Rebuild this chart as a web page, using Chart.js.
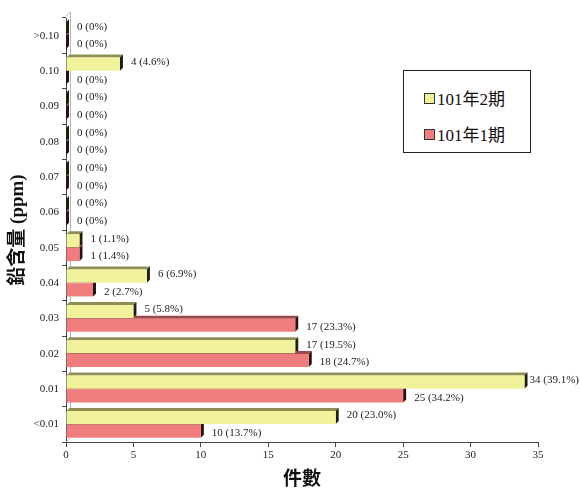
<!DOCTYPE html>
<html lang="zh-Hant">
<head>
<meta charset="UTF-8">
<title>鉛含量分布</title>
<script src="https://cdn.jsdelivr.net/npm/chart.js"></script>
<style>
  body { margin: 0; background: #fff; }
  #wrap { position: relative; width: 580px; height: 491px; }
  #legend {
    position: absolute; left: 403px; top: 70px; width: 128px; height: 83px;
    border: 1px solid #222; background: #fff; box-sizing: border-box;
    font-family: "Liberation Serif", "Noto Sans CJK TC", serif; font-size: 17px; color: #111;
  }
  #legend div { position: absolute; left: 20px; white-space: nowrap; }
  #legend span.box { display: inline-block; width: 9px; height: 9px; border: 1px solid #333; margin-right: 2px; vertical-align: 1px; }
</style>
</head>
<body>
<div id="wrap">
  <canvas id="grafico" width="580" height="491"></canvas>
  <div id="legend"></div>
</div>
<script>
// 分級 (ppm)，由上到下
const niveis = ['>0.10', '0.10', '0.09', '0.08', '0.07', '0.06', '0.05', '0.04', '0.03', '0.02', '0.01', '<0.01'];
const periodo2 = [0, 4, 0, 0, 0, 0, 1, 6, 5, 17, 34, 20];
const periodo1 = [0, 0, 0, 0, 0, 0, 1, 2, 17, 18, 25, 10];
const pct2 = ['0%', '4.6%', '0%', '0%', '0%', '0%', '1.1%', '6.9%', '5.8%', '19.5%', '39.1%', '23.0%'];
const pct1 = ['0%', '0%', '0%', '0%', '0%', '0%', '1.4%', '2.7%', '23.3%', '24.7%', '34.2%', '13.7%'];
const xTicks = [0, 5, 10, 15, 20, 25, 30, 35];

const cores = [
  { front: '#f2f29c', top: '#8f8f55', side: '#1e1e10' },
  { front: '#ef7d7d', top: '#9a4a4a', side: '#2a1010' }
];
const serif = '"Liberation Serif", "Noto Sans CJK TC", serif';

// parede e faces 3D das barras
const profundidade = 3;
const efeito3d = {
  id: 'efeito3d',
  beforeDatasetsDraw(chart) {
    const ctx = chart.ctx, a = chart.chartArea, d = 4;
    ctx.save();
    ctx.strokeStyle = '#b5b5b5';
    ctx.lineWidth = 1;
    ctx.beginPath();
    ctx.moveTo(a.left + d + 0.5, a.top - d - 2);
    ctx.lineTo(a.left + d + 0.5, a.bottom - d);
    ctx.lineTo(a.left, a.bottom);
    ctx.moveTo(a.left, a.top - 2);
    ctx.lineTo(a.left + d + 0.5, a.top - d - 2);
    ctx.stroke();
    chart.data.datasets.forEach((ds, di) => {
      const c = cores[di];
      chart.getDatasetMeta(di).data.forEach(bar => {
        const t = bar.y - bar.height / 2, b = bar.y + bar.height / 2;
        const x0 = bar.base, x1 = bar.x, p = profundidade;
        ctx.fillStyle = c.top;
        ctx.beginPath();
        ctx.moveTo(x0, t); ctx.lineTo(x0 + p, t - p); ctx.lineTo(x1 + p, t - p); ctx.lineTo(x1, t);
        ctx.closePath(); ctx.fill();
        ctx.fillStyle = c.side;
        ctx.beginPath();
        ctx.moveTo(x1, t); ctx.lineTo(x1 + p, t - p); ctx.lineTo(x1 + p, b - p); ctx.lineTo(x1, b);
        ctx.closePath(); ctx.fill();
      });
    });
    ctx.restore();
  },
  afterDatasetsDraw(chart) {
    const ctx = chart.ctx;
    ctx.save();
    ctx.font = '11px ' + serif;
    ctx.fillStyle = '#222';
    ctx.textBaseline = 'middle';
    chart.data.datasets.forEach((ds, di) => {
      const pcts = di === 0 ? pct2 : pct1;
      chart.getDatasetMeta(di).data.forEach((bar, i) => {
        const txt = ds.data[i] + ' (' + pcts[i] + ')';
        const dy = di === 0 ? -2 : 2;
        // rótulo à direita da barra, sem sair do canvas
        const x = Math.min(bar.x + 11, chart.width - ctx.measureText(txt).width - 1);
        ctx.fillText(txt, x, bar.y + dy);
      });
    });
    ctx.restore();
  }
};

const ctx = document.getElementById('grafico');
const grafico = new Chart(ctx, {
  type: 'bar',
  data: {
    labels: niveis,
    datasets: [
      { label: '101年2期', data: periodo2, backgroundColor: cores[0].front },
      { label: '101年1期', data: periodo1, backgroundColor: cores[1].front }
    ]
  },
  options: {
    indexAxis: 'y',
    responsive: false,
    animation: false,
    layout: { padding: { top: 18, right: 42, left: 0, bottom: 0 } },
    datasets: { bar: { barPercentage: 0.95, categoryPercentage: 0.78 } },
    plugins: { legend: { display: false }, tooltip: { enabled: false } },
    scales: {
      x: {
        min: 0, max: 35,
        afterBuildTicks: s => { s.ticks = xTicks.map(v => ({ value: v })); },
        afterFit: s => { s.height = 49; },
        border: { color: '#444' },
        grid: { drawOnChartArea: false, tickLength: 5, color: '#444' },
        ticks: { color: '#222', font: { family: serif, size: 11 }, padding: 2 },
        title: { display: true, text: '件數', color: '#111', font: { family: serif, size: 19, weight: 'bold' }, padding: { top: 2, bottom: 0 } }
      },
      y: {
        afterFit: s => { s.width = 66; },
        border: { color: '#444' },
        grid: { drawOnChartArea: false, tickLength: 4, color: '#444' },
        ticks: { color: '#222', font: { family: serif, size: 11 }, padding: 3 },
        title: { display: true, text: '鉛含量 (ppm)', color: '#111', font: { family: serif, size: 19, weight: 'bold' }, padding: { top: 7, bottom: 0 } }
      }
    }
  },
  plugins: [efeito3d]
});

// legenda com borda sobre a área do gráfico
const legenda = document.getElementById('legend');
grafico.data.datasets.forEach((ds, i) => {
  const item = document.createElement('div');
  item.style.top = (i === 0 ? 14 : 50) + 'px';
  item.innerHTML = '<span class="box" style="background:' + ds.backgroundColor + '"></span>' + ds.label;
  legenda.appendChild(item);
});
</script>
</body>
</html>
